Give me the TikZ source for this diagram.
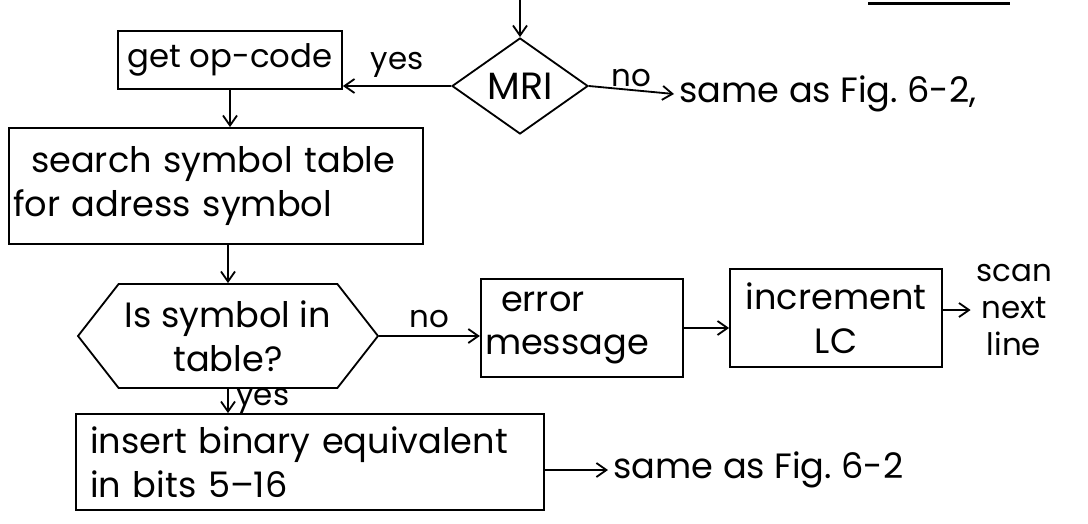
\documentclass[tikz,border=0pt]{standalone}
\usepackage{fontspec}
\setmainfont{Poppins}
\usepackage{tikz}
\usetikzlibrary{arrows.meta,positioning,shapes.geometric,shapes.symbols}

\begin{document}
\begin{tikzpicture}[
    line width=1.3pt,
    font=\fontsize{25}{31}\selectfont,
    flow/.style={-{Straight Barb[length=2.5mm,width=3.5mm]}},
    box/.style={draw, inner sep=4pt},
    decision/.style={draw, diamond, aspect=1.4, inner sep=0pt},
    query/.style={draw, signal, signal to=east and west, signal from=nowhere, signal pointer angle=104, inner sep=0pt},
    lbl/.style={font=\fontsize{22}{26}\selectfont}
  ]
  \useasboundingbox (0,0) rectangle (27.2,-13.075);

  % stray line at the top
  \draw[line width=2pt] (21.7,-0.08) -- (25.25,-0.08);

  % MRI test
  \coordinate (entry) at (13.0,0);
  \node[decision, minimum width=3.4cm, minimum height=2.4cm, font=\fontsize{27}{31}\selectfont] (mri) at (13.0,-2.15) {MRI};
  \node[box, minimum width=5.6cm, minimum height=1.45cm, font=\fontsize{23}{29}\selectfont] (opcode) at (5.75,-1.5) {get op-code};
  \node[anchor=west] (same1) at (16.85,-2.35) {same as Fig.\ 6-2,};

  % search
  \node[box, inner xsep=3pt, minimum height=2.9cm, text width=10.15cm, align=left] (search) at (5.4,-4.65) {\hspace*{0.45cm}search symbol table\\for adress symbol};

  % table test
  \node[query, minimum width=7.5cm, minimum height=2.6cm, align=center] (intable) at (5.7,-8.4) {Is symbol in\\table?};
  \node[box, inner xsep=3pt, minimum height=2.45cm, text width=4.85cm, align=left] (errmsg) at (14.55,-8.2) {\hspace*{0.4cm}error\\message};
  \node[box, minimum width=5.3cm, minimum height=2.45cm, align=center] (inclc) at (20.9,-7.95) {increment\\LC};
  \node[lbl, align=center] (scan) at (25.35,-7.75) {scan\\next\\line};

  % insert
  \node[box, inner xsep=10pt, minimum height=2.4cm, text width=11cm, align=left] (insert) at (7.75,-11.55) {insert binary equivalent\\in bits 5--16};
  \node[anchor=west] (same2) at (15.2,-11.75) {same as Fig.\ 6-2};

  % connectors
  \draw[flow] (entry) -- (mri.north);
  \draw[flow] (mri.west) -- node[above=2pt, lbl] {yes} (mri.west -| opcode.east);
  \draw[flow] (mri.east) -- node[above=-2pt, lbl] {no} (same1.west);
  \draw[flow] (opcode.south) -- (opcode.south |- search.north);
  \draw[flow] (intable.north |- search.south) -- (intable.north);
  \draw[flow] (intable.east) -- node[above=2pt, lbl] {no} (intable.east -| errmsg.west);
  \draw[flow] (errmsg.east) -- (errmsg.east -| inclc.west);
  \draw[flow] (inclc.east |- scan.west) -- (scan.west);
  \draw[flow] (intable.south) -- node[right=2pt, lbl] {yes} (intable.south |- insert.north);
  \draw[flow] (insert.east |- same2.west) -- (same2.west);
\end{tikzpicture}
\end{document}
